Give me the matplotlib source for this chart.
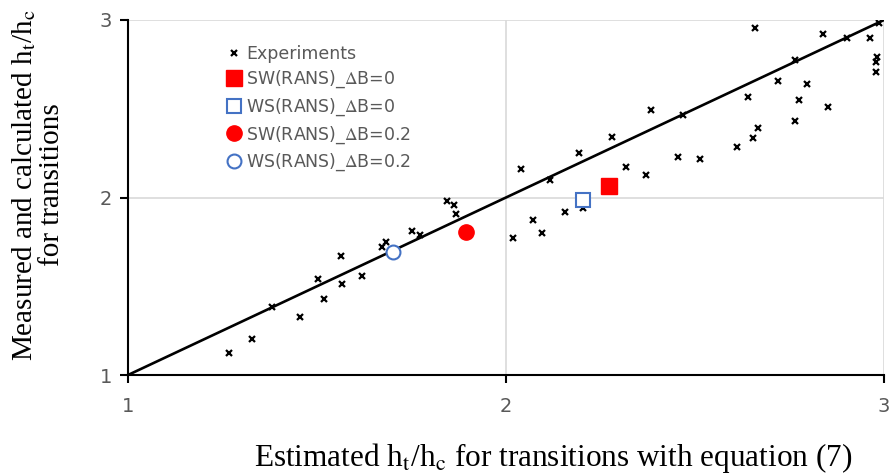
import matplotlib.pyplot as plt

plt.rcParams['mathtext.fontset'] = 'stix'

# experimental transitions (estimated, measured)
exp_x = [1.267, 1.329, 1.380, 1.455, 1.503, 1.519, 1.563, 1.565, 1.619, 1.672,
         1.683, 1.752, 1.772, 1.844, 1.862, 1.868, 2.019, 2.072, 2.095, 2.156,
         2.204, 2.040, 2.117, 2.193, 2.280, 2.317, 2.370, 2.383, 2.454, 2.468,
         2.512, 2.610, 2.640, 2.654, 2.666, 2.659, 2.720, 2.764, 2.764, 2.776,
         2.797, 2.840, 2.852, 2.901, 2.964, 2.987, 2.981, 2.979, 2.979]
exp_y = [1.126, 1.205, 1.381, 1.328, 1.541, 1.428, 1.669, 1.513, 1.558, 1.719,
         1.751, 1.811, 1.789, 1.980, 1.956, 1.905, 1.774, 1.872, 1.798, 1.917,
         1.939, 2.161, 2.099, 2.251, 2.341, 2.174, 2.128, 2.495, 2.230, 2.465,
         2.215, 2.285, 2.565, 2.335, 2.392, 2.955, 2.655, 2.776, 2.431, 2.549,
         2.641, 2.923, 2.510, 2.899, 2.899, 2.983, 2.790, 2.765, 2.709]

# RANS results
sw0 = (2.272, 2.065)
ws0 = (2.204, 1.986)
sw02 = (1.893, 1.806)
ws02 = (1.701, 1.693)

ticks = [1, 2, 3]
red = '#FF0000'
blue = '#4472C4'

fig = plt.figure(figsize=(8.92, 4.75), dpi=100)
ax = fig.add_axes([0.1435, 0.2105, 0.8475, 0.7474])

ax.plot([1, 3], [1, 3], color='black', lw=1.9, zorder=2)
ax.plot(exp_x, exp_y, 'x', color='black', ms=4, mew=1.6, label='Experiments', zorder=3)
ax.plot(*sw0, 's', color=red, ms=11, label=r'SW(RANS)_$\Delta$B=0', zorder=4)
ax.plot(*ws0, 's', mfc='white', mec=blue, mew=1.5, ms=10, label=r'WS(RANS)_$\Delta$B=0', zorder=4)
ax.plot(*sw02, 'o', color=red, ms=11, label=r'SW(RANS)_$\Delta$B=0.2', zorder=4)
ax.plot(*ws02, 'o', mfc='white', mec=blue, mew=1.5, ms=10, label=r'WS(RANS)_$\Delta$B=0.2', zorder=4)

ax.set_xlim(1, 3)
ax.set_ylim(1, 3)
ax.set_xticks(ticks)
ax.set_yticks(ticks)
ax.grid(True, color='#D9D9D9', lw=1.2, zorder=0)
ax.set_axisbelow(True)
for s in ['top', 'right']:
    ax.spines[s].set_visible(False)
for s in ['left', 'bottom']:
    ax.spines[s].set_linewidth(1.5)
ax.tick_params(axis='both', direction='out', length=6, width=1.5, labelsize=14,
               labelcolor='#595959')
ax.tick_params(axis='x', which='major', pad=10)
ax.tick_params(axis='y', which='major', pad=5.5)

# axis titles placed directly on the figure
fig.text(0.6205, 0.019,
         r'Estimated h$_\mathrm{t}$/h$_\mathrm{c}$ for transitions with equation (7)',
         family='Liberation Serif', fontsize=22.5, ha='center', va='baseline')
fig.text(0.042, 0.6105,
         'Measured and calculated h$_\\mathrm{t}$/h$_\\mathrm{c}$\nfor transitions',
         family='Liberation Serif', fontsize=21, ha='center', va='center',
         rotation=90, multialignment='center', linespacing=1.05)

leg = ax.legend(loc='upper left', bbox_to_anchor=(0.117, 0.95), frameon=False,
                fontsize=12.5, handletextpad=0.1, handlelength=1.2, labelspacing=0.35,
                borderaxespad=0)
for t in leg.get_texts():
    t.set_color('#595959')

fig.savefig('out.png', dpi=100)
